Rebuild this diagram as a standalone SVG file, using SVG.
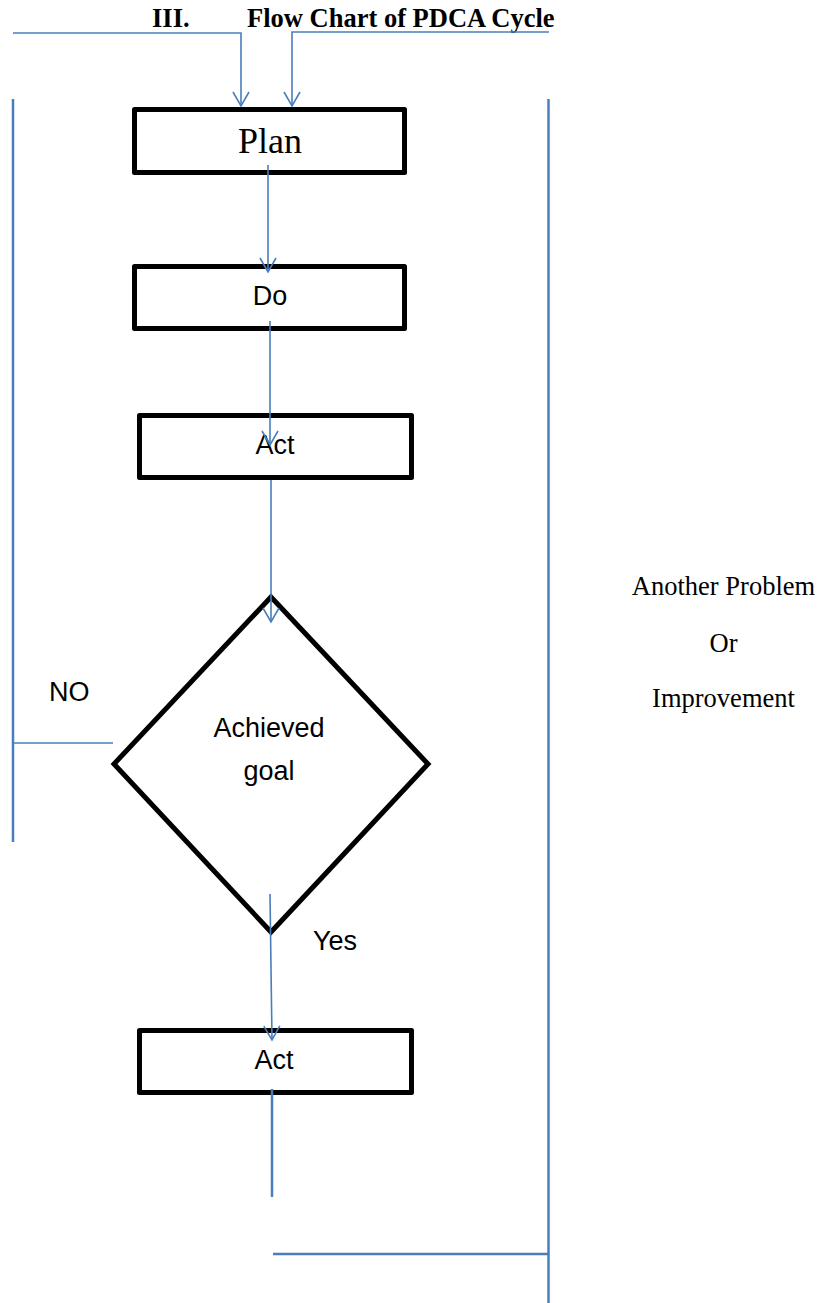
<svg xmlns="http://www.w3.org/2000/svg" width="819" height="1303" viewBox="0 0 819 1303">
<style>
.box{fill:#fff;stroke:#000;stroke-width:5;stroke-linejoin:round}
.dia{fill:#fff;stroke:#000;stroke-width:5;stroke-linejoin:miter}
.ln{fill:none;stroke:#4A7EBB;stroke-width:1.6}
.lnb{fill:none;stroke:#4A7EBB;stroke-width:2.5}
.sans{font-family:"Liberation Sans",Arial,sans-serif;font-size:27px;fill:#000}
.serif{font-family:"Liberation Serif","Times New Roman",serif;fill:#000}
</style>
<defs>
<marker id="arr" markerUnits="userSpaceOnUse" markerWidth="20" markerHeight="20" refX="15" refY="9" orient="auto" viewBox="0 0 20 20">
<path d="M1,1 L15,9 L1,17" fill="none" stroke="#4A7EBB" stroke-width="1.6"/>
</marker>
</defs>
<rect width="819" height="1303" fill="#fff"/>
<g id="title">
<text class="serif" x="152" y="27" font-size="26.5" font-weight="bold">III.</text>
<text class="serif" x="247" y="27" font-size="26.5" font-weight="bold">Flow Chart of PDCA Cycle</text>
</g>
<g id="plan">
<rect class="box" x="134.5" y="109.5" width="270" height="63"/>
<text class="serif" x="270" y="153" font-size="36" text-anchor="middle">Plan</text>
</g>
<g id="do">
<rect class="box" x="134.5" y="266.5" width="270" height="62"/>
<text class="sans" x="270" y="305" text-anchor="middle">Do</text>
</g>
<g id="act1">
<rect class="box" x="139.5" y="415.5" width="272" height="62"/>
<text class="sans" x="275" y="454" text-anchor="middle">Act</text>
</g>
<g id="decision">
<polygon class="dia" points="271,597 428,764 271,932 114,764"/>
<text class="sans" x="269" y="737" text-anchor="middle">Achieved</text>
<text class="sans" x="269" y="780" text-anchor="middle">goal</text>
</g>
<g id="act2">
<rect class="box" x="139.5" y="1030.5" width="272" height="62"/>
<text class="sans" x="274" y="1069" text-anchor="middle">Act</text>
</g>
<g id="side-note">
<text class="serif" x="723.5" y="595" font-size="26.5" text-anchor="middle">Another Problem</text>
<text class="serif" x="723.5" y="652" font-size="26.5" text-anchor="middle">Or</text>
<text class="serif" x="723.5" y="707" font-size="26.5" text-anchor="middle">Improvement</text>
</g>
<g id="labels">
<text class="sans" x="49" y="701">NO</text>
<text class="sans" x="313" y="950">Yes</text>
</g>
<g id="connectors">
<polyline class="ln" points="13,33 241,33 241,106" marker-end="url(#arr)"/>
<polyline class="ln" points="549,32 292,32 292,106" marker-end="url(#arr)"/>
<line class="lnb" x1="13" y1="99" x2="13" y2="842"/>
<line class="lnb" x1="548.5" y1="99" x2="548.5" y2="1303"/>
<line class="ln" x1="268" y1="165" x2="268" y2="272" marker-end="url(#arr)"/>
<line class="ln" x1="270" y1="321" x2="270" y2="445" marker-end="url(#arr)"/>
<line class="ln" x1="271" y1="480" x2="271" y2="622" marker-end="url(#arr)"/>
<line class="ln" x1="13" y1="743" x2="113" y2="743"/>
<line class="ln" x1="270" y1="894" x2="272" y2="1040" marker-end="url(#arr)"/>
<line class="lnb" x1="272" y1="1089" x2="272" y2="1197"/>
<line class="lnb" x1="273" y1="1254" x2="548" y2="1254"/>
</g>
</svg>
